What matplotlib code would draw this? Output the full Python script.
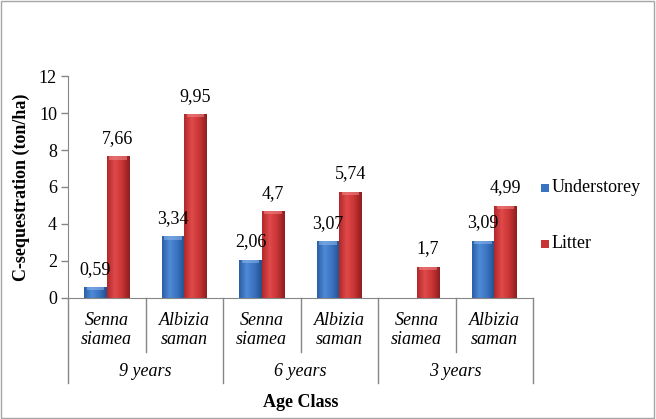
import numpy as np
import matplotlib
matplotlib.use("Agg")
import matplotlib.pyplot as plt
from matplotlib.patches import Rectangle
from matplotlib.colors import LinearSegmentedColormap
import matplotlib.transforms as mtransforms

species = ["Senna\nsiamea", "Albizia\nsaman", "Senna\nsiamea", "Albizia\nsaman", "Senna\nsiamea", "Albizia\nsaman"]
age_groups = ["9 years", "6 years", "3 years"]
understorey = [0.59, 3.34, 2.06, 3.07, None, 3.09]
litter = [7.66, 9.95, 4.7, 5.74, 1.7, 4.99]
understorey_labels = ["0,59", "3,34", "2,06", "3,07", "", "3,09"]
litter_labels = ["7,66", "9,95", "4,7", "5,74", "1,7", "4,99"]
series_names = ["Understorey", "Litter"]
yticks = [0, 2, 4, 6, 8, 10, 12]

plt.rcParams['font.family'] = ['Liberation Serif', 'DejaVu Serif']

fig = plt.figure(figsize=(6.56, 4.19), dpi=100)
fig.patches.append(Rectangle((0.002, 0.002), 0.995, 0.995, transform=fig.transFigure,
                             fill=False, edgecolor='#a6a6a6', lw=1.0))
ax = fig.add_axes([0.1037, 0.2888, 0.7088, 0.5298])

blue_cmap = LinearSegmentedColormap.from_list("b", ["#2a5ea6", "#4f8ad6", "#3a73c0", "#234f8e"])
red_cmap = LinearSegmentedColormap.from_list("r", ["#b0282a", "#e04a4a", "#c93434", "#8e1e20"])

bw = 0.29
grad = np.linspace(0, 1, 64).reshape(1, -1)

def draw_bar(x0, h, cmap, light):
    if h is None:
        return
    rect = Rectangle((x0, 0), bw, h, facecolor='none', edgecolor='none')
    ax.add_patch(rect)
    im = ax.imshow(grad, extent=[x0, x0 + bw, 0, h], aspect='auto', cmap=cmap, zorder=2)
    im.set_clip_path(rect)
    cap = min(0.18, h)
    ax.fill_between([x0 + 0.03, x0 + bw - 0.03], h - cap, h, color=light, alpha=0.55, zorder=3, lw=0)

FS = 13
xs = np.arange(len(species))
for i in xs:
    draw_bar(i - bw, understorey[i], blue_cmap, '#8fb8ec')
    draw_bar(i, litter[i], red_cmap, '#f08a8a')
    if understorey[i] is not None:
        ax.text(i - bw / 2, understorey[i] + 0.72, understorey_labels[i], ha='center', va='baseline', fontsize=FS)
    ax.text(i + bw / 2, litter[i] + 0.72, litter_labels[i], ha='center', va='baseline', fontsize=FS)

ax.set_xlim(-0.5, len(species) - 0.5)
ax.set_ylim(0, 12)
ax.set_yticks(yticks)
ax.set_yticklabels([str(t) for t in yticks], fontsize=FS)
ax.set_xticks([])
for s in ['top', 'right']:
    ax.spines[s].set_visible(False)
for s in ['left', 'bottom']:
    ax.spines[s].set_color('#868686')
ax.tick_params(axis='y', color='#868686', length=5, width=1, direction='out', pad=3)
ax.set_ylabel("C-sequestration (ton/ha)", fontsize=13, fontweight='bold', labelpad=6)

trans = mtransforms.blended_transform_factory(ax.transData, ax.transAxes)
for k in range(len(species) + 1):
    b = k - 0.5
    depth = -0.383 if k % 2 == 0 else -0.243
    ax.plot([b, b], [0, depth], transform=trans, color='#868686', lw=1, clip_on=False)
for i, lab in enumerate(species):
    ax.text(i, -0.145, lab, transform=trans, ha='center', va='center', fontsize=FS,
            style='italic', linespacing=1.15)
for g, lab in enumerate(age_groups):
    ax.text(2 * g + 0.5, -0.333, lab, transform=trans, ha='center', va='center', fontsize=FS, style='italic')
ax.text(0.5, -0.47, "Age Class", transform=ax.transAxes, ha='center', va='center', fontsize=13, fontweight='bold')

# legend
lx = 545 / 656
for j, (name, col) in enumerate(zip(series_names, ['#3a73c0', '#c93434'])):
    y = 1 - (187 + 56 * j) / 419
    fig.patches.append(Rectangle((lx - 0.006, y - 0.011), 0.012, 0.019, transform=fig.transFigure,
                                 facecolor=col, edgecolor='none'))
    fig.text(lx + 0.01, y, name, ha='left', va='center', fontsize=FS)

fig.savefig("out.png", dpi=100)
